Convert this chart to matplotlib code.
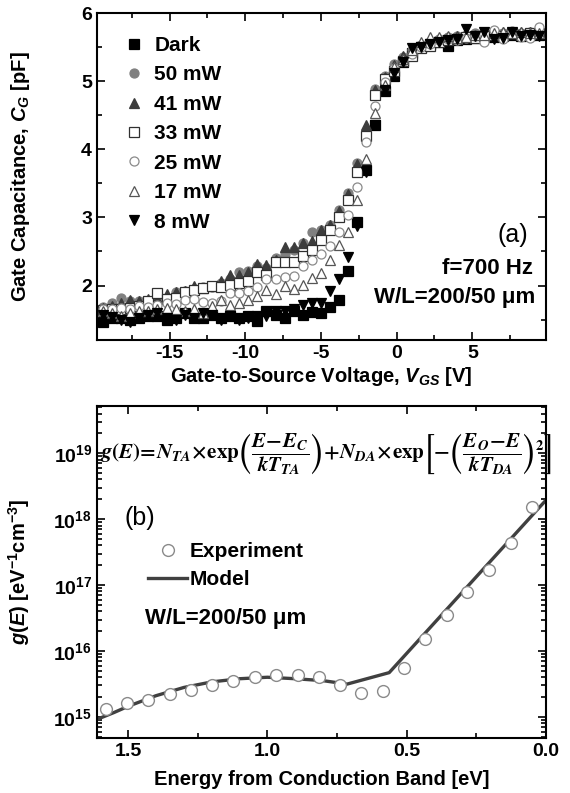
import numpy as np
import matplotlib
matplotlib.use("Agg")
import matplotlib.pyplot as plt
from matplotlib.ticker import MultipleLocator, LogLocator, FuncFormatter, NullFormatter
from matplotlib.lines import Line2D

plt.rcParams['font.family'] = ['Liberation Sans', 'DejaVu Sans']
plt.rcParams['font.weight'] = 'bold'
plt.rcParams['axes.unicode_minus'] = False
plt.rcParams['mathtext.fontset'] = 'custom'
plt.rcParams['mathtext.rm'] = 'Liberation Sans:bold'
plt.rcParams['mathtext.bf'] = 'Liberation Sans:bold'
plt.rcParams['mathtext.it'] = 'Liberation Sans:italic:bold'

# ---------------- Panel (a) data ----------------
vgs = [-19.4, -18.8, -18.2, -17.6, -17.0, -16.4, -15.8, -15.2, -14.6, -14.0,
       -13.4, -12.8, -12.2, -11.6, -11.0, -10.4, -9.8, -9.2, -8.6, -8.0,
       -7.4, -6.8, -6.2, -5.6, -5.0, -4.4, -3.8, -3.2, -2.6, -2.0,
       -1.4, -0.8, -0.2, 0.4, 1.0, 1.6, 2.2, 2.8, 3.4, 4.0,
       4.6, 5.2, 5.8, 6.4, 7.0, 7.6, 8.2, 8.8, 9.4]

c_dark = [1.46, 1.53, 1.53, 1.50, 1.52, 1.55, 1.55, 1.50, 1.52, 1.60,
          1.53, 1.53, 1.57, 1.53, 1.55, 1.53, 1.55, 1.48, 1.62, 1.57,
          1.52, 1.62, 1.57, 1.61, 1.60, 1.68, 1.79, 2.22, 2.93, 3.70,
          4.35, 4.85, 5.08, 5.28, 5.42, 5.50, 5.55, 5.57, 5.52, 5.60,
          5.62, 5.64, 5.66, 5.65, 5.67, 5.68, 5.66, 5.68, 5.67]
c_50 = [1.69, 1.74, 1.82, 1.78, 1.77, 1.75, 1.80, 1.82, 1.90, 1.92,
        1.94, 1.98, 1.98, 2.04, 2.09, 2.20, 2.21, 2.28, 2.26, 2.40,
        2.47, 2.52, 2.62, 2.78, 2.82, 2.89, 3.11, 3.36, 3.80, 4.24,
        4.88, 5.08, 5.25, 5.36, 5.46, 5.53, 5.58, 5.62, 5.65, 5.66,
        5.68, 5.70, 5.70, 5.71, 5.70, 5.72, 5.71, 5.72, 5.73]
c_41 = [1.67, 1.70, 1.75, 1.79, 1.78, 1.80, 1.80, 1.87, 1.90, 1.92,
        2.00, 1.96, 1.99, 2.06, 2.16, 2.16, 2.20, 2.31, 2.30, 2.38,
        2.56, 2.56, 2.63, 2.66, 2.81, 2.89, 3.10, 3.35, 3.78, 4.36,
        4.87, 5.06, 5.24, 5.37, 5.45, 5.52, 5.58, 5.62, 5.64, 5.66,
        5.68, 5.68, 5.70, 5.70, 5.72, 5.70, 5.72, 5.72, 5.72]
c_33 = [1.64, 1.66, 1.65, 1.67, 1.70, 1.77, 1.89, 1.80, 1.82, 1.90,
        1.94, 1.97, 2.00, 1.98, 2.01, 2.04, 2.06, 2.20, 2.16, 2.34,
        2.34, 2.34, 2.44, 2.52, 2.67, 2.81, 3.00, 3.25, 3.66, 4.19,
        4.80, 5.03, 5.15, 5.30, 5.37, 5.48, 5.52, 5.58, 5.60, 5.62,
        5.65, 5.64, 5.66, 5.68, 5.66, 5.70, 5.68, 5.70, 5.70]
c_25 = [1.66, 1.65, 1.67, 1.66, 1.70, 1.69, 1.72, 1.75, 1.73, 1.79,
        1.80, 1.76, 1.75, 1.78, 1.89, 1.89, 1.92, 1.98, 2.09, 2.10,
        2.13, 2.14, 2.28, 2.38, 2.47, 2.58, 2.79, 3.04, 3.44, 4.11,
        4.64, 4.98, 5.20, 5.29, 5.40, 5.50, 5.55, 5.60, 5.62, 5.60,
        5.64, 5.66, 5.58, 5.75, 5.62, 5.73, 5.65, 5.64, 5.79]
c_17 = [1.62, 1.60, 1.56, 1.60, 1.62, 1.62, 1.65, 1.67, 1.65, 1.63,
        1.65, 1.60, 1.70, 1.79, 1.72, 1.75, 1.79, 1.85, 1.93, 1.87,
        1.99, 1.95, 2.01, 2.11, 2.19, 2.38, 2.60, 2.79, 3.26, 3.86,
        4.53, 4.95, 5.21, 5.33, 5.45, 5.57, 5.65, 5.65, 5.66, 5.64,
        5.65, 5.68, 5.68, 5.70, 5.72, 5.70, 5.72, 5.70, 5.70]
c_8 = [1.57, 1.54, 1.50, 1.46, 1.53, 1.57, 1.59, 1.52, 1.50, 1.57,
       1.53, 1.60, 1.57, 1.50, 1.55, 1.50, 1.52, 1.55, 1.55, 1.62,
       1.62, 1.65, 1.72, 1.75, 1.75, 1.92, 2.09, 2.42, 2.87, 3.67,
       4.36, 4.87, 5.12, 5.28, 5.48, 5.50, 5.54, 5.58, 5.60, 5.62,
       5.76, 5.66, 5.72, 5.62, 5.64, 5.72, 5.66, 5.68, 5.66]

series_labels = ['Dark', '50 mW', '41 mW', '33 mW', '25 mW', '17 mW', '8 mW']

# ---------------- Panel (b) data ----------------
e_exp = [1.58, 1.504, 1.428, 1.351, 1.274, 1.198, 1.123, 1.044, 0.969, 0.892,
         0.816, 0.739, 0.663, 0.587, 0.511, 0.433, 0.357, 0.282, 0.203, 0.127, 0.052]
g_exp = [1.3e15, 1.6e15, 1.8e15, 2.2e15, 2.6e15, 3.1e15, 3.5e15, 4.1e15, 4.3e15, 4.3e15,
         4.0e15, 3.1e15, 2.3e15, 2.5e15, 5.6e15, 1.5e16, 3.5e16, 7.8e16, 1.7e17, 4.4e17, 1.55e18]
e_model = [1.62, 1.55, 1.50, 1.40, 1.30, 1.20, 1.10, 1.00, 0.90, 0.80, 0.714, 0.563, 0.0]
g_model = [8.9e14, 1.17e15, 1.45e15, 2.1e15, 2.8e15, 3.4e15, 3.8e15, 4.0e15, 3.8e15, 3.55e15,
           3.15e15, 4.7e15, 1.95e18]

fig = plt.figure(figsize=(5.7, 7.93), dpi=100)
ax1 = fig.add_axes([0.170, 0.5712, 0.788, 0.4124])
ax2 = fig.add_axes([0.170, 0.0694, 0.788, 0.4186])

ms = 6.5
styles = [
    dict(marker='s', mfc='black', mec='black'),
    dict(marker='o', mfc='#808080', mec='#808080'),
    dict(marker='^', mfc='#3c3c3c', mec='#3c3c3c'),
    dict(marker='s', mfc='white', mec='#303030'),
    dict(marker='o', mfc='white', mec='#8a8a8a'),
    dict(marker='^', mfc='white', mec='#555555'),
    dict(marker='v', mfc='black', mec='black'),
]
data_a = [c_dark, c_50, c_41, c_33, c_25, c_17, c_8]
handles = []
for vals, lab, st in zip(data_a, series_labels, styles):
    h, = ax1.plot(vgs, vals, ls='none', ms=ms, mew=0.9, label=lab, **st)
    handles.append(h)

ax1.set_xlim(-19.8, 9.87)
ax1.set_ylim(1.2, 6.0)
ax1.xaxis.set_major_locator(MultipleLocator(5))
ax1.xaxis.set_minor_locator(MultipleLocator(2.5))
ax1.yaxis.set_major_locator(MultipleLocator(1))
ax1.yaxis.set_minor_locator(MultipleLocator(0.5))
ax1.set_xlabel('Gate-to-Source Voltage, $V_{GS}$ [V]', fontsize=14.5, fontweight='bold', labelpad=2)
ax1.set_ylabel('Gate Capacitance, $C_G$ [pF]', fontsize=14.5, fontweight='bold')
ax1.yaxis.set_label_coords(-0.145, 0.5)

leg = ax1.legend(handles=handles, loc='upper left', bbox_to_anchor=(0.04, 0.955), frameon=False,
                 prop={'size': 15, 'weight': 'bold'}, handlelength=1.0, handletextpad=0.5,
                 labelspacing=0.5, borderaxespad=0.0, markerscale=1.0)
ax1.text(0.96, 0.32, '(a)', transform=ax1.transAxes, ha='right', va='center',
         fontsize=18, fontweight='normal')
ax1.text(0.971, 0.22, 'f=700 Hz', transform=ax1.transAxes, ha='right', va='center',
         fontsize=16, fontweight='bold')
ax1.text(0.975, 0.131, 'W/L=200/50 \u03bcm', transform=ax1.transAxes, ha='right', va='center',
         fontsize=16, fontweight='bold')

# ---------------- Panel (b) ----------------
ax2.plot(e_model, g_model, color='#404040', lw=2.4, label='Model', zorder=2)
ax2.plot(e_exp, g_exp, ls='none', marker='o', ms=8.5, mfc='white', mec='#8a8a8a', mew=1.0,
         label='Experiment', zorder=3)
ax2.set_yscale('log')
ax2.set_xlim(1.612, 0.0)
ax2.set_ylim(4.8e14, 5.2e19)
ax2.xaxis.set_major_locator(MultipleLocator(0.5))
ax2.xaxis.set_minor_locator(MultipleLocator(0.25))
ax2.xaxis.set_major_formatter(FuncFormatter(lambda v, p: '%.1f' % abs(v)))
ax2.yaxis.set_major_locator(LogLocator(base=10, numticks=20))
ax2.yaxis.set_minor_locator(LogLocator(base=10, subs=np.arange(2, 10), numticks=20))
ax2.yaxis.set_minor_formatter(NullFormatter())
ax2.yaxis.set_major_formatter(FuncFormatter(
    lambda v, p: r'$\mathbf{10^{%d}}$' % int(round(np.log10(v)))))
ax2.set_xlabel('Energy from Conduction Band [eV]', fontsize=14.5, fontweight='bold', labelpad=7)
ax2.set_ylabel('$g(E)$ [eV$^{-1}$cm$^{-3}$]', fontsize=14.5, fontweight='bold')
ax2.yaxis.set_label_coords(-0.145, 0.5)

exp_h = Line2D([], [], ls='none', marker='o', ms=8.5, mfc='white', mec='#8a8a8a', mew=1.0)
mod_h = Line2D([], [], color='#404040', lw=2.4)
ax2.legend([exp_h, mod_h], ['Experiment', 'Model'], loc='upper left', bbox_to_anchor=(0.095, 0.615),
           frameon=False, prop={'size': 15, 'weight': 'bold'}, handlelength=1.9,
           handletextpad=0.1, labelspacing=0.42, borderaxespad=0.0)
ax2.text(0.108, 0.36, 'W/L=200/50 \u03bcm', transform=ax2.transAxes, ha='left', va='center',
         fontsize=16, fontweight='bold')
ax2.text(0.062, 0.663, '(b)', transform=ax2.transAxes, ha='left', va='center',
         fontsize=18, fontweight='normal')

eq = (r'$\mathbfit{g}(\mathbfit{E})\!=\!\mathbfit{N}_{\mathbfit{TA}}\!\times\!\mathrm{exp}'
      r'\left(\dfrac{\mathbfit{E}\!-\!\mathbfit{E}_{\mathbfit{C}}}{\mathbfit{kT}_{\mathbfit{TA}}}\right)'
      r'\!+\!\mathbfit{N}_{\mathbfit{DA}}\!\times\!\mathrm{exp}'
      r'\left[-\left(\dfrac{\mathbfit{E}_{\mathbfit{O}}\!-\!\mathbfit{E}}{\mathbfit{kT}_{\mathbfit{DA}}}\right)^2\right]$')
ax2.text(0.006, 0.855, eq, transform=ax2.transAxes, ha='left', va='center',
         fontsize=15, math_fontfamily='stix')

for ax in (ax1, ax2):
    for sp in ax.spines.values():
        sp.set_linewidth(1.5)
    ax.tick_params(which='both', direction='in', top=True, right=True, width=1.2,
                   labelsize=14)
    ax.tick_params(which='major', length=5.5)
    ax.tick_params(which='minor', length=3.5)
    for lab in ax.get_xticklabels() + ax.get_yticklabels():
        lab.set_fontweight('bold')

fig.savefig('out.png', dpi=100)
